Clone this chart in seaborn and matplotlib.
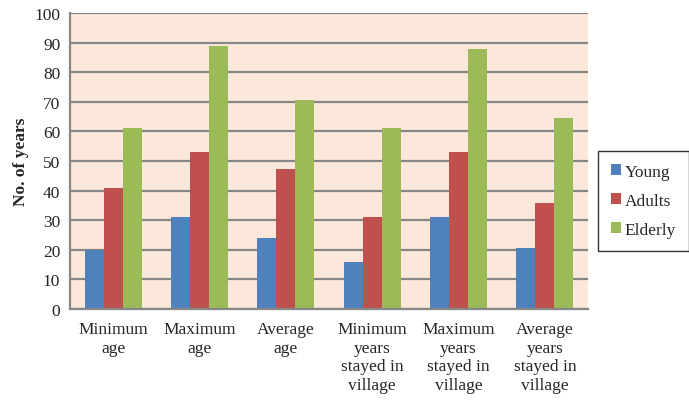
import matplotlib
matplotlib.use("Agg")
from matplotlib import pyplot as plt
import pandas as pd
import seaborn as sns

categories = ["Minimum\nage", "Maximum\nage", "Average\nage",
              "Minimum\nyears\nstayed in\nvillage", "Maximum\nyears\nstayed in\nvillage",
              "Average\nyears\nstayed in\nvillage"]
groups = ["Young", "Adults", "Elderly"]
young = [20, 31, 24, 16, 31, 20.7]
adults = [41, 53, 47.2, 31, 53, 35.9]
elderly = [61, 89, 70.7, 61, 88, 64.6]
colors = ["#4F81BD", "#C0504D", "#9BBB59"]

df = pd.DataFrame({
    "cat": categories * 3,
    "group": [g for g in groups for _ in categories],
    "val": young + adults + elderly,
})

sns.set_style("white")
plt.rcParams['font.family'] = ['Liberation Serif', 'DejaVu Serif']

fig = plt.figure(figsize=(6.89, 4.02), dpi=100)
ax = fig.add_axes([70 / 689, 1 - 310 / 402, 518 / 689, 296 / 402])
sns.barplot(data=df, x="cat", y="val", hue="group", palette=colors,
            width=0.66, ax=ax, saturation=1, legend=True,
            edgecolor="none", linewidth=0)

ax.set_facecolor("#FCE8DA")
ax.set_ylim(0, 100)
ax.set_yticks(range(0, 101, 10))
ax.set_xlim(-0.5, 5.5)
ax.yaxis.grid(True, color="#868686", linewidth=1.6)
ax.set_axisbelow(True)
for s in ["top", "right"]:
    ax.spines[s].set_visible(False)
ax.spines["left"].set_color("#868686")
ax.spines["left"].set_linewidth(1.6)
ax.spines["bottom"].set_color("#868686")
ax.spines["bottom"].set_linewidth(1.6)
ax.tick_params(axis="y", length=4, color="#868686", width=1.2, labelsize=12.5, pad=3)
ax.tick_params(axis="x", length=0, labelsize=12.5, pad=9)
for t in ax.get_xticklabels():
    t.set_linespacing(1.2)
ax.set_xlabel("")
ax.set_ylabel("No. of years", fontsize=12.5, fontweight="bold", labelpad=4)

handles, labels = ax.get_legend_handles_labels()
ax.get_legend().remove()
leg = fig.legend(handles, labels, loc="upper left",
                 bbox_to_anchor=(598 / 689, 1 - 152 / 402),
                 borderaxespad=0,
                 frameon=True, fancybox=False, fontsize=12.5,
                 handlelength=0.6, handleheight=0.6, labelspacing=0.75,
                 handletextpad=0.2, borderpad=0.75)
leg.get_frame().set_edgecolor("black")
leg.get_frame().set_linewidth(1.0)

fig.savefig("out.png", dpi=100)
